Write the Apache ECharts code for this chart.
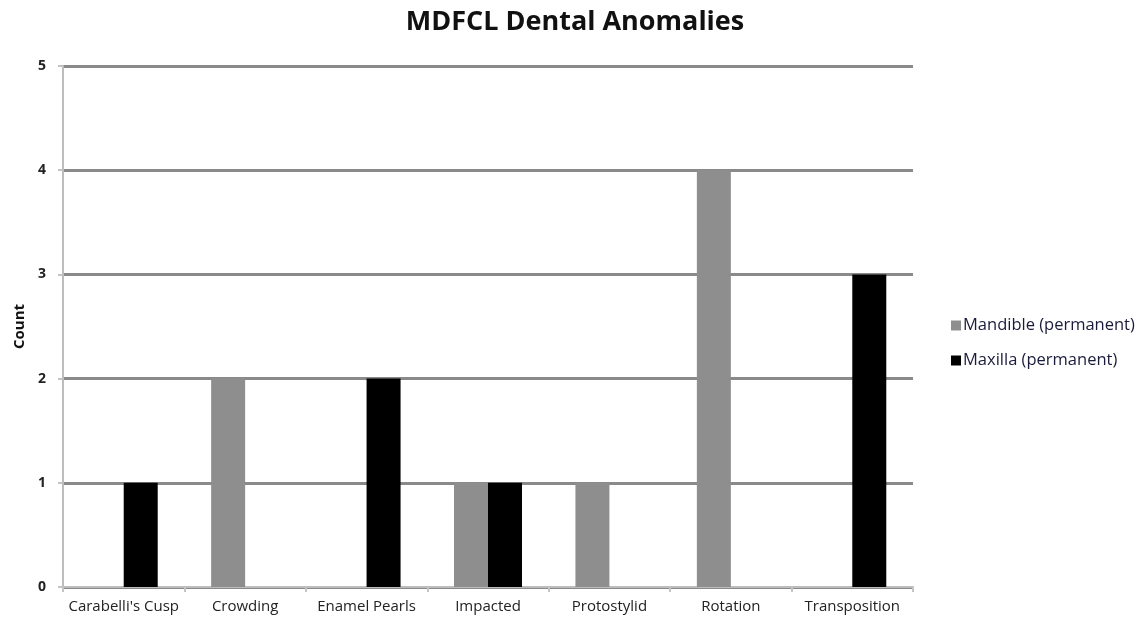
<!DOCTYPE html>
<html>
<head>
<meta charset="utf-8">
<style>
  html, body { margin: 0; padding: 0; background: #fff; }
  #chart { width: 1147px; height: 626px; }
</style>
<script src="https://cdn.jsdelivr.net/npm/echarts@6/dist/echarts.min.js"></script>
</head>
<body>
<div id="chart"></div>
<script>
// Anomaly categories and counts per jaw
const categories = ["Carabelli's Cusp", "Crowding", "Enamel Pearls", "Impacted", "Protostylid", "Rotation", "Transposition"];
const mandible = [0, 2, 0, 1, 1, 4, 0];
const maxilla = [1, 0, 2, 1, 0, 0, 3];
const seriesNames = ["Mandible (permanent)", "Maxilla (permanent)"];
const yTicks = [0, 1, 2, 3, 4, 5];

const font = "'Open Sans', 'Liberation Sans', sans-serif";

const chart = echarts.init(document.getElementById('chart'), null, { renderer: 'canvas' });
chart.setOption({
  animation: false,
  backgroundColor: '#ffffff',
  title: {
    text: 'MDFCL Dental Anomalies',
    left: 570,
    textAlign: 'center',
    top: 4,
    textStyle: { fontFamily: font, fontSize: 27, fontWeight: 'bold', color: '#111' }
  },
  legend: {
    orient: 'vertical',
    left: 946,
    top: 312,
    itemWidth: 10,
    itemHeight: 10,
    itemGap: 18,
    icon: 'rect',
    textStyle: { fontFamily: font, fontSize: 16.5, color: '#1a1a3a', padding: [0, 0, 0, -3] },
    data: seriesNames
  },
  grid: { left: 63, right: 234, top: 66, bottom: 39, containLabel: false },
  xAxis: {
    type: 'category',
    data: categories,
    axisLine: { show: true, lineStyle: { color: '#bdbdbd', width: 2 } },
    axisTick: { show: true, length: 5, alignWithLabel: false, lineStyle: { color: '#c4c4c4', width: 2 } },
    axisLabel: { interval: 0, fontFamily: font, fontSize: 15, color: '#222', margin: 12 }
  },
  yAxis: {
    type: 'value',
    min: yTicks[0],
    max: yTicks[yTicks.length - 1],
    interval: 1,
    name: 'Count',
    nameLocation: 'middle',
    nameGap: 36,
    nameRotate: 90,
    nameTextStyle: { fontFamily: font, fontSize: 15, fontWeight: 'bold', color: '#111' },
    axisLine: { show: true, lineStyle: { color: '#bdbdbd', width: 2 } },
    axisTick: { show: true, length: 5, lineStyle: { color: '#c4c4c4', width: 2 } },
    axisLabel: { fontFamily: font, fontSize: 14, fontWeight: 'bold', color: '#222', margin: 17 },
    splitLine: { show: true, lineStyle: { color: '#8a8a8a', width: 3 } }
  },
  series: [
    {
      name: seriesNames[0],
      type: 'bar',
      data: mandible,
      barGap: '0%',
      barCategoryGap: '44%',
      itemStyle: { color: '#8e8e8e' },
      z: 3
    },
    {
      name: seriesNames[1],
      type: 'bar',
      data: maxilla,
      barGap: '0%',
      barCategoryGap: '44%',
      itemStyle: { color: '#000000' },
      z: 3
    }
  ]
});
</script>
</body>
</html>
